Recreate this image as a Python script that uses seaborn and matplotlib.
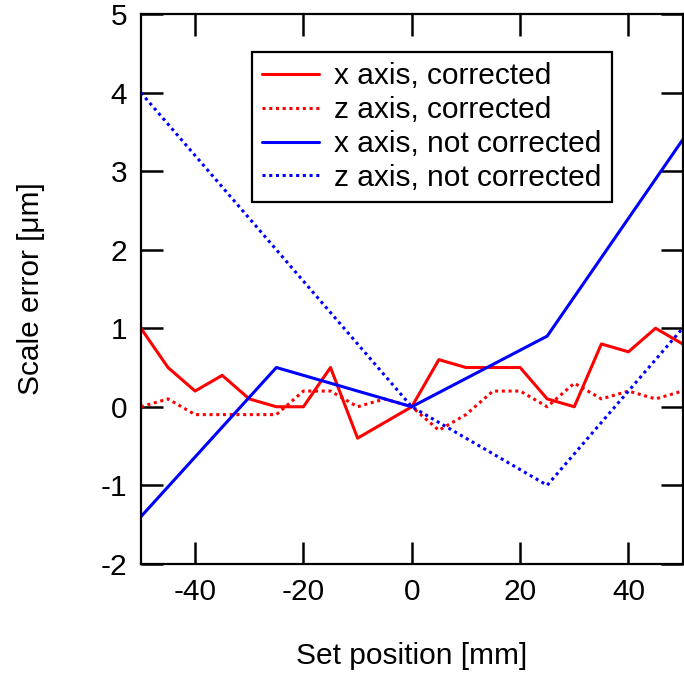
import numpy as np
import pandas as pd
import matplotlib
matplotlib.use("Agg")
import matplotlib.pyplot as plt
import seaborn as sns

# ---------------- data ----------------
pos_fine = [-50, -45, -40, -35, -30, -25, -20, -15, -10, -5, 0,
            5, 10, 15, 20, 25, 30, 35, 40, 45, 50]
x_corr = [1.0, 0.5, 0.2, 0.4, 0.1, 0.0, 0.0, 0.5, -0.4, -0.2, 0.0,
          0.6, 0.5, 0.5, 0.5, 0.1, 0.0, 0.8, 0.7, 1.0, 0.8]
z_corr = [0.0, 0.1, -0.1, -0.1, -0.1, -0.1, 0.2, 0.2, 0.0, 0.1, 0.0,
          -0.3, -0.1, 0.2, 0.2, 0.0, 0.3, 0.1, 0.2, 0.1, 0.2]

pos_coarse = [-50, -25, 0, 25, 50]
x_notcorr = [-1.4, 0.5, 0.0, 0.9, 3.4]
z_notcorr = [4.0, 2.0, 0.0, -1.0, 1.0]

labels = ["x axis, corrected", "z axis, corrected",
          "x axis, not corrected", "z axis, not corrected"]

# ---------------- style ----------------
sns.set_style("ticks")
plt.rcParams['font.family'] = ['Liberation Sans', 'DejaVu Sans']
plt.rcParams['axes.unicode_minus'] = False
plt.rcParams['text.color'] = 'black'
plt.rcParams['axes.labelcolor'] = 'black'
fs = 21.5

fig = plt.figure(figsize=(6.84, 6.76), dpi=100)
ax = fig.add_axes([0.206, 0.166, 0.792, 0.813])

lw = 2.2
dot = (0, (1, 1.2))
sns.lineplot(x=pos_fine, y=x_corr, ax=ax, color="#ff0000", lw=lw, label=labels[0])
sns.lineplot(x=pos_fine, y=z_corr, ax=ax, color="#ff0000", lw=lw, ls=dot, label=labels[1])
sns.lineplot(x=pos_coarse, y=x_notcorr, ax=ax, color="#0000ff", lw=lw, label=labels[2])
sns.lineplot(x=pos_coarse, y=z_notcorr, ax=ax, color="#0000ff", lw=lw, ls=dot, label=labels[3])

ax.set_xlim(-50, 50)
ax.set_ylim(-2, 5)
ax.set_xticks([-40, -20, 0, 20, 40])
ax.set_yticks(np.arange(-2, 6, 1))

for s in ax.spines.values():
    s.set_visible(True)
    s.set_linewidth(1.6)
    s.set_color("black")

ax.tick_params(axis="both", direction="in", length=16, width=1.8,
               top=True, right=True, labelsize=fs, pad=10, colors="black")

ax.set_xlabel("Set position [mm]", fontsize=fs, labelpad=26)
ax.set_ylabel("Scale error [\u03bcm]", fontsize=fs, labelpad=40)

leg = ax.legend(loc="upper left", bbox_to_anchor=(0.205, 0.932), fontsize=fs,
                frameon=True, fancybox=False, handlelength=1.9, handletextpad=0.5,
                labelspacing=0.2, borderpad=0.35, borderaxespad=0)
leg.get_frame().set_edgecolor("black")
leg.get_frame().set_linewidth(1.6)
leg.get_frame().set_alpha(1)

fig.savefig("out.png", dpi=100)
